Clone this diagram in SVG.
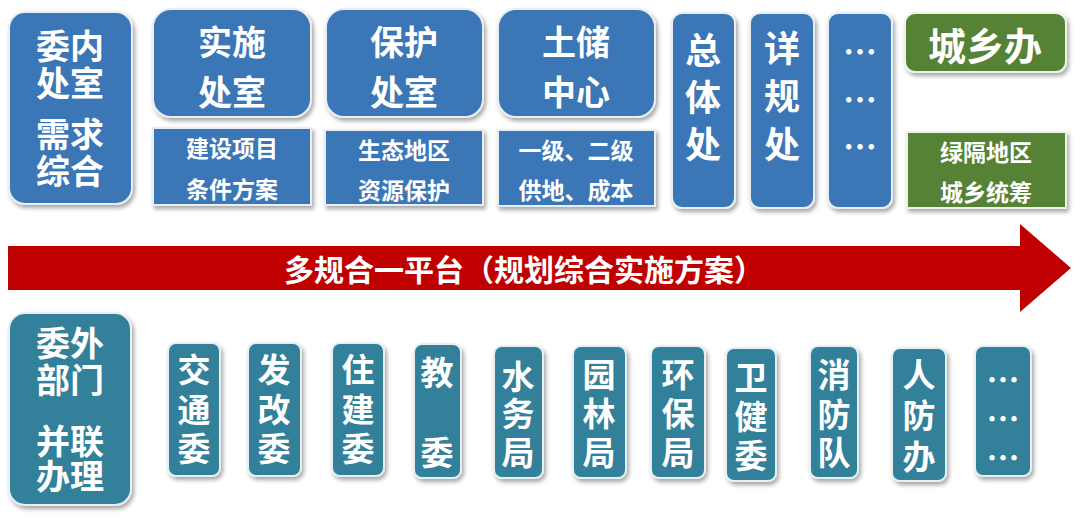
<svg xmlns="http://www.w3.org/2000/svg" width="1080" height="524" viewBox="0 0 1080 524">
<defs>
<filter id="sh" x="-20%" y="-20%" width="140%" height="140%">
<feDropShadow dx="2" dy="3" stdDeviation="2" flood-color="#000" flood-opacity="0.35"/>
</filter>
<style>
.b{fill:#3b76b6;stroke:#e8eef6;stroke-width:2;filter:url(#sh)}
.g{fill:#548235;stroke:#eef3ea;stroke-width:2;filter:url(#sh)}
.t{fill:#30809a;stroke:#e6f0f3;stroke-width:2;filter:url(#sh)}
text{font-family:"Noto Sans CJK SC","Noto Sans",sans-serif;font-weight:bold;fill:#fff;text-anchor:middle;dominant-baseline:central}
.L{font-size:34px}
.V{font-size:36px}
.M{font-size:33px}
.S{font-size:23px}
.A{font-size:30px}
</style>
</defs>
<rect width="1080" height="524" fill="#fff"/>

<g id="n-weinei"><rect class="b" x="9" y="12" width="123" height="192" rx="16"/>
<text class="L"><tspan x="70" y="44">委内</tspan><tspan x="70" y="81">处室</tspan><tspan x="70" y="132">需求</tspan><tspan x="70" y="169">综合</tspan></text></g>

<g id="n-shishi"><rect class="b" x="153" y="9" width="158" height="108" rx="18"/>
<text class="L"><tspan x="232" y="40">实施</tspan><tspan x="232" y="90">处室</tspan></text></g>
<g id="n-shishi-sub"><rect class="b" x="153" y="128" width="158" height="77" rx="0"/>
<text class="S"><tspan x="232" y="147">建设项目</tspan><tspan x="232" y="188">条件方案</tspan></text></g>

<g id="n-baohu"><rect class="b" x="326" y="9" width="157" height="108" rx="18"/>
<text class="L"><tspan x="404" y="40">保护</tspan><tspan x="404" y="90">处室</tspan></text></g>
<g id="n-baohu-sub"><rect class="b" x="325" y="130" width="158" height="75" rx="0"/>
<text class="S"><tspan x="404" y="149">生态地区</tspan><tspan x="404" y="189">资源保护</tspan></text></g>

<g id="n-tuchu"><rect class="b" x="498" y="9" width="157" height="108" rx="18"/>
<text class="L"><tspan x="576" y="40">土储</tspan><tspan x="576" y="90">中心</tspan></text></g>
<g id="n-tuchu-sub"><rect class="b" x="498" y="130" width="157" height="76" rx="0"/>
<text class="S"><tspan x="576" y="149">一级、二级</tspan><tspan x="576" y="189">供地、成本</tspan></text></g>

<g id="n-zongti"><rect class="b" x="672" y="13" width="63" height="195" rx="10"/>
<text class="V"><tspan x="703" y="48">总</tspan><tspan x="703" y="95">体</tspan><tspan x="703" y="142">处</tspan></text></g>

<g id="n-xianggui"><rect class="b" x="750" y="13" width="64" height="195" rx="10"/>
<text class="V"><tspan x="782" y="46">详</tspan><tspan x="782" y="94">规</tspan><tspan x="782" y="142">处</tspan></text></g>

<g id="n-etc1"><rect class="b" x="828" y="13" width="64" height="195" rx="10"/>
<text class="L"><tspan x="860" y="50">…</tspan><tspan x="860" y="98">…</tspan><tspan x="860" y="145">…</tspan></text></g>

<g id="n-chengxiang"><rect class="g" x="905" y="13" width="161" height="59" rx="10"/>
<text x="985" y="43" style="font-size:38px">城乡办</text></g>
<g id="n-chengxiang-sub"><rect class="g" x="907" y="132" width="159" height="76" rx="0"/>
<text class="S"><tspan x="986" y="151">绿隔地区</tspan><tspan x="986" y="191">城乡统筹</tspan></text></g>

<g id="connectors">
<polygon points="8,246 1020,246 1020,224 1071,268 1020,312 1020,290 8,290" fill="#c00000"/>
<text class="A" x="524" y="268">多规合一平台（规划综合实施方案）</text>
</g>

<g id="n-weiwai"><rect class="t" x="9" y="313" width="122" height="192" rx="16"/>
<text class="L"><tspan x="70" y="341">委外</tspan><tspan x="70" y="378">部门</tspan><tspan x="70" y="439">并联</tspan><tspan x="70" y="474">办理</tspan></text></g>

<g id="n-jiaotong"><rect class="t" x="168" y="343" width="52" height="133" rx="8"/>
<text class="M"><tspan x="194" y="368">交</tspan><tspan x="194" y="408">通</tspan><tspan x="194" y="447">委</tspan></text></g>

<g id="n-fagai"><rect class="t" x="248" y="343" width="53" height="133" rx="8"/>
<text class="M"><tspan x="274" y="368">发</tspan><tspan x="274" y="408">改</tspan><tspan x="274" y="447">委</tspan></text></g>

<g id="n-zhujian"><rect class="t" x="332" y="343" width="52" height="133" rx="8"/>
<text class="M"><tspan x="358" y="368">住</tspan><tspan x="358" y="408">建</tspan><tspan x="358" y="447">委</tspan></text></g>

<g id="n-jiao"><rect class="t" x="414" y="344" width="47" height="134" rx="8"/>
<text class="M"><tspan x="437" y="371">教</tspan><tspan x="437" y="451">委</tspan></text></g>

<g id="n-shuiwu"><rect class="t" x="494" y="346" width="49" height="132" rx="8"/>
<text class="M"><tspan x="518" y="375">水</tspan><tspan x="518" y="412">务</tspan><tspan x="518" y="451">局</tspan></text></g>

<g id="n-yuanlin"><rect class="t" x="573" y="346" width="53" height="132" rx="8"/>
<text class="M"><tspan x="599" y="373">园</tspan><tspan x="599" y="412">林</tspan><tspan x="599" y="451">局</tspan></text></g>

<g id="n-huanbao"><rect class="t" x="651" y="346" width="54" height="132" rx="8"/>
<text class="M"><tspan x="678" y="373">环</tspan><tspan x="678" y="412">保</tspan><tspan x="678" y="451">局</tspan></text></g>

<g id="n-weijian"><rect class="t" x="726" y="348" width="50" height="133" rx="8"/>
<text class="M"><tspan x="751" y="376">卫</tspan><tspan x="751" y="415">健</tspan><tspan x="751" y="454">委</tspan></text></g>

<g id="n-xiaofang"><rect class="t" x="810" y="346" width="48" height="132" rx="8"/>
<text class="M"><tspan x="834" y="373">消</tspan><tspan x="834" y="413">防</tspan><tspan x="834" y="451">队</tspan></text></g>

<g id="n-renfang"><rect class="t" x="892" y="348" width="54" height="133" rx="8"/>
<text class="M"><tspan x="919" y="373">人</tspan><tspan x="919" y="414">防</tspan><tspan x="919" y="455">办</tspan></text></g>

<g id="n-etc2"><rect class="t" x="975" y="346" width="56" height="130" rx="8"/>
<text class="M"><tspan x="1003" y="378">…</tspan><tspan x="1003" y="417">…</tspan><tspan x="1003" y="456">…</tspan></text></g>
</svg>
